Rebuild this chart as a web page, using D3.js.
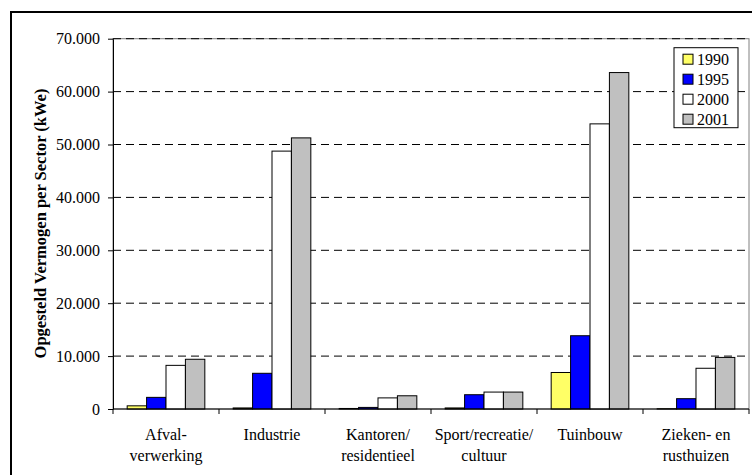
<!DOCTYPE html>
<html>
<head>
<meta charset="utf-8">
<script src="https://cdn.jsdelivr.net/npm/d3@7"></script>
<style>
  body { margin: 0; background: #fff; }
  svg text { font-family: "Liberation Serif", "Times New Roman", serif; }
</style>
</head>
<body>
<svg width="752" height="475"></svg>
<script>
// sectors, two-line labels
var sectors = ["Afval-verwerking", "Industrie", "Kantoren/residentieel", "Sport/recreatie/cultuur", "Tuinbouw", "Zieken- en rusthuizen"];
var sectorLines = [["Afval-", "verwerking"], ["Industrie"], ["Kantoren/", "residentieel"], ["Sport/recreatie/", "cultuur"], ["Tuinbouw"], ["Zieken- en", "rusthuizen"]];
var years = ["1990", "1995", "2000", "2001"];
var colors = ["#ffff66", "#0000ff", "#ffffff", "#c0c0c0"];

// kWe per sector, per year
var v1990 = [600, 200, 100, 200, 6900, 50];
var v1995 = [2200, 6750, 300, 2700, 13850, 1950];
var v2000 = [8250, 48750, 2100, 3200, 53900, 7700];
var v2001 = [9400, 51250, 2500, 3200, 63600, 9750];
var series = [v1990, v1995, v2000, v2001];

var yTicks = [0, 10000, 20000, 30000, 40000, 50000, 60000, 70000];

function drawChart() {
    var svg = d3.select("svg");
    var pLeft = 113, pRight = 749, pTop = 38.7, pBottom = 409;
    var serif = "Liberation Serif";

    var nl = d3.formatLocale({ decimal: ",", thousands: ".", grouping: [3], currency: ["", ""] });
    var fmt = nl.format(",");

    var x0 = d3.scaleBand().domain(sectors).range([pLeft, pRight]).padding(0);
    var x1 = d3.scaleBand().domain(years).range([0, x0.bandwidth()]).paddingInner(0).paddingOuter(0.73);
    var y = d3.scaleLinear().domain([0, 70000]).range([pBottom, pTop]);

    // outer frame (only top and left visible)
    svg.append("rect")
        .attr("x", 11).attr("y", 12).attr("width", 800).attr("height", 500)
        .attr("fill", "none").attr("stroke", "#000").attr("stroke-width", 2);

    // plot area border
    svg.append("rect")
        .attr("x", pLeft).attr("y", pTop).attr("width", pRight - pLeft).attr("height", pBottom - pTop)
        .attr("fill", "none").attr("stroke", "#808080").attr("stroke-width", 1);

    // dashed gridlines
    svg.append("g").selectAll("line")
        .data(yTicks.filter(function(d) { return d > 0; }))
        .enter().append("line")
        .attr("x1", pLeft).attr("x2", pRight)
        .attr("y1", function(d) { return y(d); }).attr("y2", function(d) { return y(d); })
        .attr("stroke", "#000").attr("stroke-width", 1)
        .attr("stroke-dasharray", "8,5");

    // bars
    var rows = [];
    sectors.forEach(function(s, i) {
        years.forEach(function(yr, j) {
            rows.push({ sector: s, year: yr, value: series[j][i], color: colors[j] });
        });
    });

    svg.append("g").selectAll("rect")
        .data(rows)
        .enter().append("rect")
        .attr("x", function(d) { return x0(d.sector) + x1(d.year); })
        .attr("y", function(d) { return y(d.value); })
        .attr("width", x1.bandwidth())
        .attr("height", function(d) { return pBottom - y(d.value); })
        .attr("fill", function(d) { return d.color; })
        .attr("stroke", "#000").attr("stroke-width", 1);

    // y axis
    var yAxis = svg.append("g")
        .attr("transform", "translate(" + pLeft + ",0)")
        .call(d3.axisLeft(y).tickValues(yTicks).tickFormat(fmt).tickSizeInner(5).tickSizeOuter(0).tickPadding(8));
    yAxis.attr("font-family", serif).attr("font-size", 16);
    yAxis.select(".domain").attr("stroke", "#000");
    yAxis.selectAll("text").attr("fill", "#000");

    // x axis
    var bounds = sectors.map(function(s) { return x0(s); }).concat([pRight]);
    svg.append("line")
        .attr("x1", pLeft).attr("x2", pRight).attr("y1", pBottom).attr("y2", pBottom)
        .attr("stroke", "#000").attr("stroke-width", 1);
    svg.append("g").selectAll("line")
        .data(bounds)
        .enter().append("line")
        .attr("x1", function(d) { return d; }).attr("x2", function(d) { return d; })
        .attr("y1", pBottom).attr("y2", pBottom + 5)
        .attr("stroke", "#000");

    var labels = svg.append("g").selectAll("text")
        .data(sectors)
        .enter().append("text")
        .attr("x", function(d) { return x0(d) + x0.bandwidth() / 2; })
        .attr("y", 440)
        .attr("text-anchor", "middle")
        .attr("font-family", serif)
        .attr("font-size", 16);
    labels.selectAll("tspan")
        .data(function(d, i) { return sectorLines[i].map(function(t) { return { t: t, x: x0(d) + x0.bandwidth() / 2 }; }); })
        .enter().append("tspan")
        .attr("x", function(d) { return d.x; })
        .attr("dy", function(d, i) { return i === 0 ? 0 : 20.5; })
        .text(function(d) { return d.t; });

    // y title
    svg.append("text")
        .attr("transform", "translate(46,223.5) rotate(-90)")
        .attr("text-anchor", "middle")
        .attr("font-family", serif)
        .attr("font-size", 16.5)
        .attr("font-weight", "bold")
        .text("Opgesteld Vermogen per Sector (kWe)");

    // legend
    var lg = svg.append("g").attr("transform", "translate(674,47.7)");
    lg.append("rect").attr("width", 64).attr("height", 80)
        .attr("fill", "#fff").attr("stroke", "#000").attr("stroke-width", 1);
    var items = lg.selectAll("g.item")
        .data(years)
        .enter().append("g")
        .attr("class", "item")
        .attr("transform", function(d, i) { return "translate(9," + (6.5 + i * 20) + ")"; });
    items.append("rect")
        .attr("width", 10).attr("height", 10)
        .attr("fill", function(d, i) { return colors[i]; })
        .attr("stroke", "#000");
    items.append("text")
        .attr("x", 14).attr("y", 11)
        .attr("font-family", serif)
        .attr("font-size", 16)
        .text(function(d) { return d; });
}

drawChart();
</script>
</body>
</html>
